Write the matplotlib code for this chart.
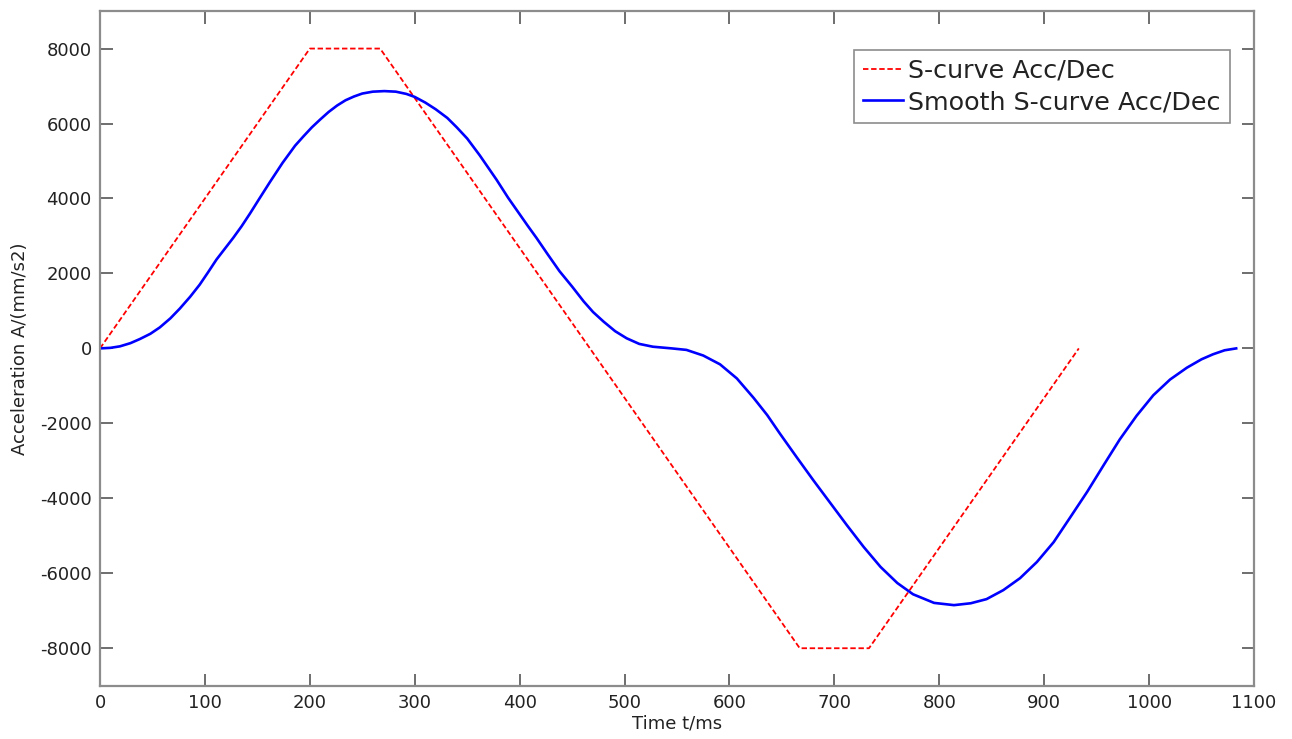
import matplotlib
matplotlib.use("Agg")
import matplotlib.pyplot as plt

# S-curve Acc/Dec (piecewise linear corners)
s_time = [0, 200, 267, 667, 733, 933]
s_acc = [0, 8000, 8000, -8000, -8000, 0]

# Smooth S-curve Acc/Dec
smooth_time = [0, 10, 19, 29, 38, 48, 57, 67, 76, 86, 95, 103, 111, 119, 127,
               135, 143, 152, 162, 174, 186, 194, 202, 210, 218, 226, 234, 242,
               250, 260, 271, 282, 292, 300, 310, 320, 331, 340, 350, 362, 378,
               389, 400, 408, 416, 427, 438, 450, 461, 470, 480, 491, 502, 514,
               527, 545, 559, 575, 591, 607, 623, 636, 648, 664, 680, 696, 712,
               728, 744, 760, 775, 795, 814, 830, 845, 861, 877, 893, 909, 925,
               941, 957, 972, 988, 1004, 1020, 1036, 1050, 1061, 1072, 1083]
smooth_acc = [0, 15, 55, 140, 250, 390, 560, 800, 1060, 1380, 1700, 2030, 2370,
              2660, 2950, 3260, 3600, 4000, 4440, 4950, 5410, 5660, 5900, 6110,
              6310, 6480, 6620, 6720, 6800, 6850, 6865, 6850, 6790, 6710, 6560,
              6380, 6150, 5900, 5600, 5150, 4500, 4020, 3580, 3260, 2950, 2500,
              2060, 1650, 1255, 970, 715, 460, 270, 120, 45, 0, -40, -190, -425,
              -800, -1320, -1780, -2270, -2900, -3520, -4120, -4720, -5300,
              -5830, -6260, -6560, -6790, -6850, -6800, -6690, -6450, -6130,
              -5700, -5170, -4500, -3825, -3100, -2430, -1800, -1250, -830,
              -515, -290, -156, -50, 0]

x_ticks = list(range(0, 1101, 100))
y_ticks = list(range(-8000, 8001, 2000))

plt.rcParams['font.family'] = ['DejaVu Sans']
plt.rcParams['axes.unicode_minus'] = False

fig = plt.figure(figsize=(12.92, 7.39), dpi=100)
ax = fig.add_axes([0.0774, 0.0721, 0.8932, 0.9129])

ax.plot(s_time, s_acc, color='red', linestyle='--', linewidth=1.3,
        dashes=(3, 1.5), label='S-curve Acc/Dec')
ax.plot(smooth_time, smooth_acc, color='blue', linewidth=1.9,
        label='Smooth S-curve Acc/Dec')

ax.set_xlim(0, 1100)
ax.set_ylim(-9000, 9000)
ax.set_xticks(x_ticks)
ax.set_yticks(y_ticks)

for sp in ax.spines.values():
    sp.set_color('#8c8c8c')
    sp.set_linewidth(1.6)
ax.tick_params(direction='in', length=9, width=1.2, color='#555555',
               labelsize=13, top=True, right=True, pad=6, labelcolor='#222222')

ax.set_xlabel('Time t/ms', fontsize=13, labelpad=2, color='#222222')
ax.set_ylabel('Acceleration A/(mm/s2)', fontsize=13, labelpad=8, color='#222222')

leg = ax.legend(loc='upper right', bbox_to_anchor=(0.979, 0.943), fontsize=18.3,
                handlelength=1.6, handletextpad=0.2, borderpad=0.35,
                labelspacing=0.3, fancybox=False, framealpha=1,
                borderaxespad=0)
leg.get_frame().set_edgecolor('#8c8c8c')
leg.get_frame().set_linewidth(1.2)
for t in leg.get_texts():
    t.set_color('#222222')

fig.savefig('out.png', dpi=100)
